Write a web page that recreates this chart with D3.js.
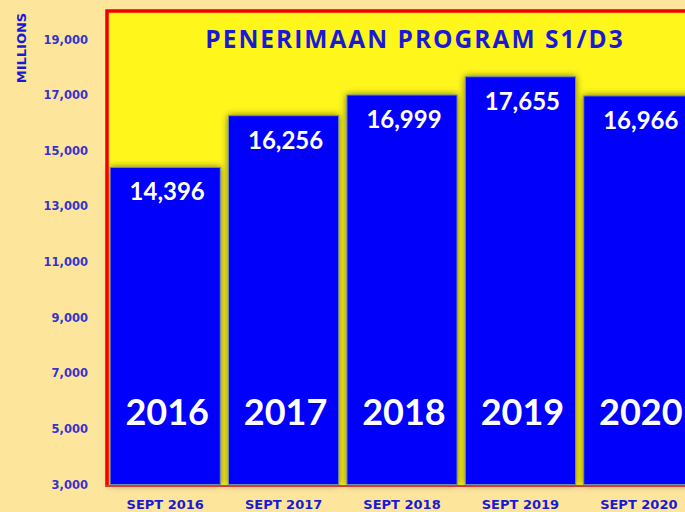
<!DOCTYPE html>
<html>
<head>
<meta charset="utf-8">
<script src="https://cdn.jsdelivr.net/npm/d3@7"></script>
<style>
  html, body { margin: 0; padding: 0; background: #fee59c; overflow: hidden; }
  svg { display: block; font-family: Lato, "Open Sans", sans-serif; }
</style>
</head>
<body>
<script>
var categories = ["SEPT 2016", "SEPT 2017", "SEPT 2018", "SEPT 2019", "SEPT 2020"];
var years = ["2016", "2017", "2018", "2019", "2020"];
var values = [14396, 16256, 16999, 17655, 16966];
var yTicks = [3000, 5000, 7000, 9000, 11000, 13000, 15000, 17000, 19000];
var title = "PENERIMAAN PROGRAM S1/D3";

(function () {
    var width = 685;
    var height = 512;
    var left = 106, top = 13, bottom = 486, right = 698;

    var svg = d3.select("body").append("svg")
        .attr("width", width)
        .attr("height", height);

    var defs = svg.append("defs");
    var f = defs.append("filter").attr("id", "shadow")
        .attr("x", "-20%").attr("y", "-20%").attr("width", "140%").attr("height", "140%");
    f.append("feDropShadow")
        .attr("dx", 0).attr("dy", 0)
        .attr("stdDeviation", 3.5)
        .attr("flood-color", "#5a5200")
        .attr("flood-opacity", 0.8);

    var x = d3.scaleBand()
        .domain(categories)
        .range([left, right])
        .paddingInner(0.07)
        .paddingOuter(0.035);

    var y = d3.scaleLinear()
        .domain([3000, 20000])
        .range([bottom - 1.5, top - 1.5]);

    // plot area
    svg.append("rect")
        .attr("x", left).attr("y", top - 3)
        .attr("width", 700).attr("height", bottom - top + 3)
        .attr("fill", "#fff71c");

    // bars
    svg.selectAll("rect.bar")
        .data(values)
        .enter().append("rect")
        .attr("class", "bar")
        .attr("x", (d, i) => x(categories[i]))
        .attr("y", (d) => y(d))
        .attr("width", x.bandwidth())
        .attr("height", (d) => y(3000) - y(d))
        .attr("fill", "#0000fb")
        .attr("stroke", "#6f8fa8")
        .attr("stroke-width", 1)
        .attr("filter", "url(#shadow)");

    // frame (red left and top, axis line at bottom)
    svg.append("path")
        .attr("d", "M" + (left + 1) + "," + (bottom + 1) + "V" + (top - 2) + "H" + 720)
        .attr("stroke", "#f20000")
        .attr("stroke-width", 3.5)
        .attr("fill", "none");
    svg.append("line")
        .attr("x1", left).attr("x2", 720)
        .attr("y1", bottom).attr("y2", bottom)
        .attr("stroke", "#c8403c")
        .attr("stroke-width", 2);

    // title
    svg.append("text")
        .attr("x", 415).attr("y", 48)
        .attr("text-anchor", "middle")
        .attr("font-family", "'Open Sans', sans-serif")
        .attr("font-size", 24.5)
        .attr("font-weight", "bold")
        .attr("letter-spacing", 2)
        .attr("fill", "#1a1ad6")
        .text(title);

    // value labels
    svg.selectAll("text.val")
        .data(values)
        .enter().append("text")
        .attr("class", "val")
        .attr("x", (d, i) => x(categories[i]) + x.bandwidth() / 2 + 2)
        .attr("y", (d) => y(d) + 33)
        .attr("text-anchor", "middle")
        .attr("font-size", 24)
        .attr("font-weight", "bold")
        .attr("fill", "#ffffff")
        .text((d) => d3.format(",")(d));

    // year labels inside bars
    svg.selectAll("text.year")
        .data(years)
        .enter().append("text")
        .attr("class", "year")
        .attr("x", (d, i) => x(categories[i]) + x.bandwidth() / 2 + 2)
        .attr("y", 425)
        .attr("text-anchor", "middle")
        .attr("font-size", 36)
        .attr("font-weight", "bold")
        .attr("fill", "#ffffff")
        .text((d) => d);

    // axes
    var yAxis = svg.append("g")
        .attr("transform", "translate(" + left + ",0)")
        .call(d3.axisLeft(y).tickValues(yTicks).tickSize(0).tickPadding(18).tickFormat(d3.format(",")));
    yAxis.select(".domain").remove();
    yAxis.selectAll("text")
        .attr("font-size", 11.5)
        .attr("font-weight", "bold")
        .attr("font-family", "'DejaVu Sans', sans-serif")
        .attr("fill", "#3434cc");

    var xAxis = svg.append("g")
        .attr("transform", "translate(0," + bottom + ")")
        .call(d3.axisBottom(x).tickSize(0).tickPadding(14));
    xAxis.select(".domain").remove();
    xAxis.selectAll("text")
        .attr("font-size", 13)
        .attr("font-weight", "bold")
        .attr("font-family", "'DejaVu Sans', sans-serif")
        .attr("fill", "#1a1ad6");

    svg.append("text")
        .attr("transform", "translate(26,48) rotate(-90)")
        .attr("text-anchor", "middle")
        .attr("font-family", "'DejaVu Sans', sans-serif")
        .attr("font-size", 13)
        .attr("font-weight", "bold")
        .attr("fill", "#1a1ad6")
        .text("MILLIONS");
})();
</script>
</body>
</html>
